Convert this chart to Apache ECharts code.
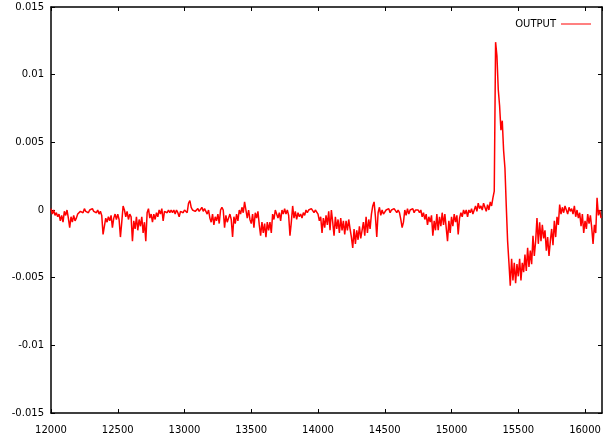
<!DOCTYPE html>
<html>
<head>
<meta charset="utf-8">
<script src="https://cdn.jsdelivr.net/npm/echarts@6/dist/echarts.min.js"></script>
<style>
html,body{margin:0;padding:0;background:#fff;}
#chart{width:612px;height:439px;}
</style>
</head>
<body>
<div id="chart"></div>
<script>
// Sample positions: x = X_START + X_STEP * index
const X_START = 12000;
const X_STEP = 10;
const X_MIN = 12000, X_MAX = 16127, X_INTERVAL = 500;
const Y_MIN = -0.015, Y_MAX = 0.015, Y_INTERVAL = 0.005;
const seriesName = 'OUTPUT';

// OUTPUT values (one per X_STEP)
const outputValues = [
  0.0001,-0.0003,0.0000,-0.0004,-0.0002,-0.0005,-0.0003,-0.0008,-0.0004,-0.0009,
  -0.0001,-0.0004,0.0000,-0.0006,-0.0013,-0.0005,-0.0009,-0.0004,-0.0008,-0.0006,
  -0.0003,-0.0004,-0.0001,0.0000,-0.0002,0.0001,-0.0001,0.0000,-0.0002,0.0000,
  0.0000,0.0001,-0.0001,0.0000,-0.0002,0.0000,-0.0003,-0.0001,-0.0004,-0.0018,
  -0.0012,-0.0006,-0.0009,-0.0005,-0.0008,-0.0004,-0.0013,-0.0006,-0.0003,-0.0007,
  -0.0003,-0.0007,-0.0020,-0.0009,0.0003,0.0000,-0.0005,-0.0001,-0.0007,-0.0003,
  -0.0005,-0.0023,-0.0008,-0.0014,-0.0005,-0.0015,-0.0007,-0.0012,-0.0005,-0.0017,
  -0.0009,-0.0023,-0.0002,0.0001,-0.0006,-0.0003,-0.0009,-0.0003,-0.0007,-0.0002,
  -0.0005,0.0000,-0.0003,0.0001,-0.0008,-0.0001,0.0000,-0.0002,0.0000,-0.0002,
  0.0000,-0.0002,0.0000,-0.0003,0.0000,-0.0002,-0.0005,-0.0001,0.0000,-0.0002,
  0.0000,0.0001,-0.0002,0.0005,0.0007,0.0002,0.0000,0.0001,-0.0001,0.0000,
  0.0001,-0.0001,0.0000,0.0002,-0.0001,0.0001,0.0000,-0.0003,0.0000,-0.0006,
  -0.0009,-0.0003,-0.0011,-0.0005,-0.0008,-0.0003,-0.0010,0.0000,0.0002,0.0000,
  -0.0013,-0.0004,-0.0009,-0.0006,-0.0003,-0.0007,-0.0020,-0.0005,-0.0010,-0.0003,
  -0.0008,0.0000,-0.0003,0.0002,-0.0002,0.0006,0.0000,-0.0006,0.0000,-0.0007,
  -0.0010,-0.0003,-0.0013,-0.0002,-0.0006,-0.0001,-0.0011,-0.0019,-0.0009,-0.0017,
  -0.0010,-0.0020,-0.0009,-0.0015,-0.0009,-0.0017,-0.0003,-0.0007,0.0000,-0.0003,
  -0.0006,-0.0002,-0.0008,0.0000,-0.0003,0.0001,-0.0003,0.0000,-0.0004,-0.0019,
  -0.0009,0.0003,-0.0006,-0.0001,-0.0007,-0.0002,-0.0005,-0.0003,-0.0006,-0.0002,
  -0.0004,0.0000,-0.0002,0.0000,-0.0001,0.0001,0.0000,-0.0002,0.0000,-0.0001,
  -0.0003,-0.0008,-0.0005,-0.0017,-0.0006,-0.0013,-0.0004,-0.0011,-0.0001,-0.0015,
  0.0000,-0.0009,-0.0019,-0.0005,-0.0014,-0.0007,-0.0017,-0.0006,-0.0015,-0.0008,
  -0.0018,-0.0008,-0.0015,-0.0007,-0.0014,-0.0020,-0.0028,-0.0014,-0.0025,-0.0015,
  -0.0022,-0.0012,-0.0021,-0.0015,-0.0009,-0.0019,-0.0005,-0.0017,-0.0007,-0.0014,
  -0.0003,0.0003,0.0006,-0.0005,-0.0020,-0.0002,0.0002,-0.0004,0.0000,-0.0003,
  -0.0002,0.0000,-0.0001,0.0001,-0.0002,0.0000,-0.0001,0.0001,0.0000,-0.0002,
  0.0000,-0.0002,-0.0007,-0.0013,-0.0009,0.0000,-0.0004,0.0001,-0.0003,0.0000,
  -0.0001,0.0001,-0.0002,0.0000,-0.0001,0.0000,-0.0002,0.0000,-0.0005,-0.0002,
  -0.0007,-0.0003,-0.0011,-0.0005,-0.0009,-0.0004,-0.0019,-0.0008,-0.0015,-0.0003,
  -0.0015,-0.0005,-0.0012,-0.0002,-0.0011,-0.0003,-0.0013,-0.0023,-0.0008,-0.0017,
  -0.0005,-0.0012,-0.0003,-0.0009,-0.0004,-0.0018,-0.0006,-0.0002,-0.0005,0.0000,
  -0.0003,0.0000,-0.0005,0.0000,-0.0002,0.0001,-0.0003,0.0000,0.0003,-0.0001,
  0.0005,0.0001,0.0003,0.0000,0.0005,0.0002,-0.0001,0.0004,0.0000,0.0006,
  0.0003,0.0009,0.0014,0.0124,0.0114,0.0089,0.0077,0.0059,0.0066,0.0044,
  0.0031,0.0003,-0.0023,-0.0039,-0.0056,-0.0036,-0.0052,-0.0039,-0.0054,-0.0040,
  -0.0049,-0.0036,-0.0052,-0.0039,-0.0046,-0.0033,-0.0045,-0.0028,-0.0042,-0.0030,
  -0.0040,-0.0019,-0.0034,-0.0023,-0.0006,-0.0025,-0.0009,-0.0023,-0.0011,-0.0021,
  -0.0015,-0.0030,-0.0020,-0.0034,-0.0023,-0.0014,-0.0026,-0.0008,-0.0020,-0.0005,
  -0.0011,0.0004,-0.0003,0.0002,-0.0002,0.0003,0.0000,-0.0003,0.0002,-0.0001,
  0.0001,-0.0003,0.0003,-0.0005,0.0000,-0.0006,-0.0002,-0.0012,-0.0003,-0.0017,
  -0.0008,-0.0014,-0.0003,-0.0010,-0.0004,-0.0013,-0.0025,-0.0011,-0.0017,0.0009,
  -0.0004,0.0000,-0.0006
];

const seriesData = outputValues.map((v, i) => [X_START + X_STEP * i, v]);

const FONT = 'DejaVu Sans';
const axisLineStyle = { color: '#000', width: 1.5 };
const tickStyle = { show: true, inside: true, length: 4, lineStyle: { color: '#000', width: 1 } };

function yFmt(v) { return String(parseFloat(v.toFixed(4))); }
function xFmt(v) { return (Math.abs(v % X_INTERVAL) < 1e-6) ? String(v) : ''; }

const chart = echarts.init(document.getElementById('chart'), null, { renderer: 'canvas' });
chart.setOption({
  animation: false,
  backgroundColor: '#fff',
  grid: { left: 51, right: 10, top: 7, bottom: 26, containLabel: false },
  legend: {
    data: [{ name: seriesName, icon: 'rect' }],
    right: 16, top: 14,
    align: 'right',
    itemWidth: 30, itemHeight: 1,
    textStyle: { fontFamily: FONT, fontSize: 10, color: '#000' }
  },
  xAxis: [
    {
      type: 'value', position: 'bottom', min: X_MIN, max: X_MAX, interval: X_INTERVAL,
      axisLine: { show: true, onZero: false, lineStyle: axisLineStyle },
      axisTick: tickStyle,
      axisLabel: { show: true, margin: 12, color: '#000', fontFamily: FONT, fontSize: 10, formatter: xFmt, showMaxLabel: false },
      splitLine: { show: false }
    },
    {
      type: 'value', position: 'top', min: X_MIN, max: X_MAX, interval: X_INTERVAL,
      axisLine: { show: true, onZero: false, lineStyle: axisLineStyle },
      axisTick: tickStyle,
      axisLabel: { show: false },
      splitLine: { show: false }
    }
  ],
  yAxis: [
    {
      type: 'value', position: 'left', min: Y_MIN, max: Y_MAX, interval: Y_INTERVAL,
      axisLine: { show: true, onZero: false, lineStyle: axisLineStyle },
      axisTick: tickStyle,
      axisLabel: { show: true, margin: 7, color: '#000', fontFamily: FONT, fontSize: 10, formatter: yFmt },
      splitLine: { show: false }
    },
    {
      type: 'value', position: 'right', min: Y_MIN, max: Y_MAX, interval: Y_INTERVAL,
      axisLine: { show: true, onZero: false, lineStyle: axisLineStyle },
      axisTick: tickStyle,
      axisLabel: { show: false },
      splitLine: { show: false }
    }
  ],
  series: [{
    name: seriesName,
    type: 'line',
    xAxisIndex: 0, yAxisIndex: 0,
    data: seriesData,
    showSymbol: false,
    symbol: 'none',
    lineStyle: { color: '#ff0000', width: 1.5 },
    itemStyle: { color: '#ff0000' },
    emphasis: { disabled: true }
  }]
});
</script>
</body>
</html>
